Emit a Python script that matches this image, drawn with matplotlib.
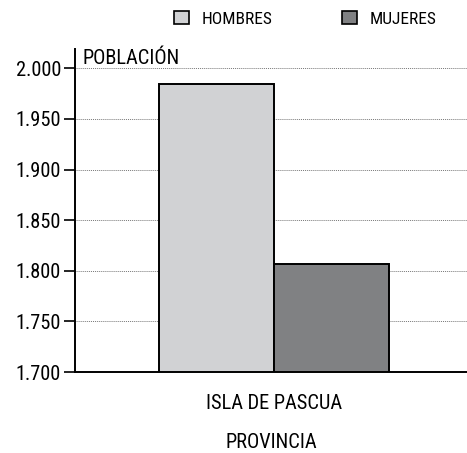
import matplotlib
matplotlib.use('Agg')
import matplotlib.pyplot as plt
from matplotlib.patches import Patch

# ── Data ───────────────────────────────────────────────────────────────────────
categoria = 'ISLA DE PASCUA'
series    = ['HOMBRES', 'MUJERES']
valores   = [1984, 1807]
colores   = ['#d1d2d4', '#808183']
y_ticks   = [1700, 1750, 1800, 1850, 1900, 1950, 2000]

plt.rcParams['font.family'] = ['Roboto Condensed', 'DejaVu Sans']
FS = 14.7

fig = plt.figure(figsize=(4.67, 4.53), dpi=100)
ax = fig.add_axes([0.1606, 0.1788, 0.8394, 0.713])

width = 0.5
for i, (name, val, col) in enumerate(zip(series, valores, colores)):
    x = (i - 0.5) * width
    ax.bar(x, val - y_ticks[0], width=width, bottom=y_ticks[0], color=col,
           edgecolor='black', linewidth=1.4, zorder=3)

ax.set_xlim(-0.865, 0.84)
ax.set_ylim(1700, 2019)
ax.set_yticks(y_ticks)
ax.set_yticklabels([f'{v/1000:.3f}' for v in y_ticks], fontsize=FS)
ax.set_xticks([0])
ax.set_xticklabels([categoria], fontsize=FS)
ax.tick_params(axis='x', length=0, pad=16)
ax.tick_params(axis='y', direction='out', length=8, width=1.2, pad=2)
ax.set_xlabel('PROVINCIA', fontsize=FS, labelpad=14)

ax.grid(axis='y', linestyle=(0, (1, 1)), color='#777777', linewidth=0.7, zorder=0)
for s in ['top', 'right']:
    ax.spines[s].set_visible(False)
ax.spines['left'].set_linewidth(1.4)
ax.spines['bottom'].set_linewidth(1.4)

ax.text(0.018, 1.0, 'POBLACIÓN', transform=ax.transAxes, fontsize=FS,
        ha='left', va='top')

handles = [Patch(facecolor=c, edgecolor='black', linewidth=1.2) for c in colores]
fig.legend(handles, series, loc='center', bbox_to_anchor=(0.654, 0.958), ncol=2,
           frameon=False, fontsize=12.5, handlelength=0.86, handleheight=0.75,
           columnspacing=4.0, handletextpad=0.75, borderpad=0)

fig.savefig('out.png', dpi=100)
